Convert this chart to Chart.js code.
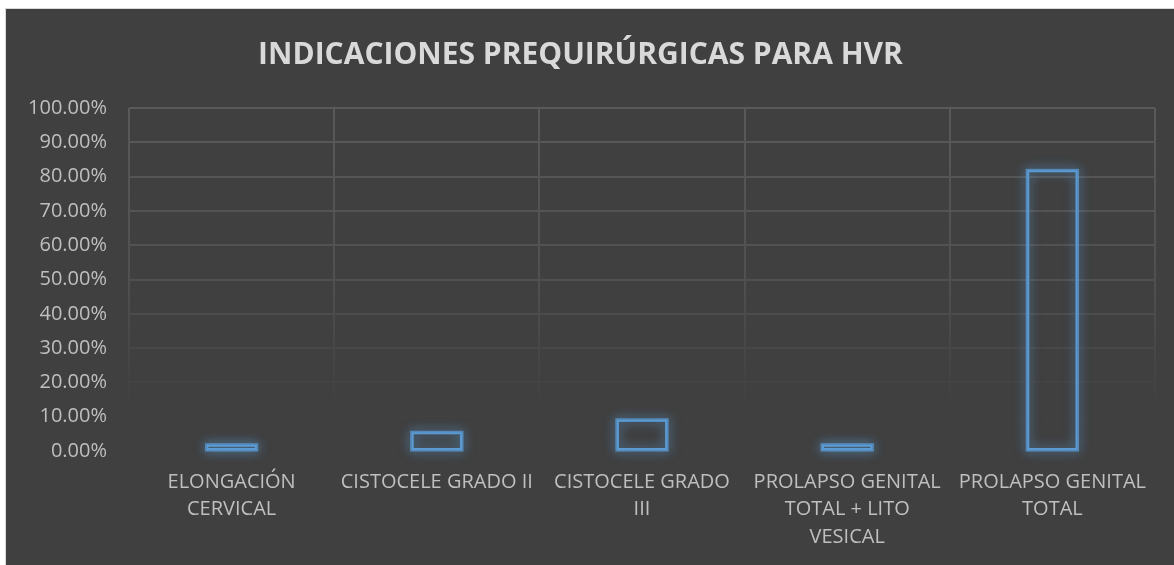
<!DOCTYPE html>
<html>
<head>
<meta charset="utf-8">
<title>Indicaciones prequirúrgicas para HVR</title>
<script src="https://cdn.jsdelivr.net/npm/chart.js@4/dist/chart.umd.min.js"></script>
<style>
  body { margin: 0; background: #ffffff; }
  #box {
    position: absolute; left: 5px; top: 8px;
    width: 1168px; height: 556px;
    background: #404040;
    border-top: 1px solid #d9d9d9;
    border-left: 1px solid #d9d9d9;
  }
</style>
</head>
<body>
<div id="box"><canvas id="chart1" width="1168" height="556"></canvas></div>
<script>
// data (n = 55 cases)
const categories = [
  ['ELONGACIÓN', 'CERVICAL'],
  ['CISTOCELE GRADO II'],
  ['CISTOCELE GRADO', 'III'],
  ['PROLAPSO GENITAL', 'TOTAL + LITO', 'VESICAL'],
  ['PROLAPSO GENITAL', 'TOTAL']
];
const percentages = [0.0182, 0.0545, 0.0909, 0.0182, 0.8182];
const yTicks = [0, 0.1, 0.2, 0.3, 0.4, 0.5, 0.6, 0.7, 0.8, 0.9, 1.0];

const fontFamily = "'Open Sans', sans-serif";
const tickColor = '#bfbfbf';
const barBlue = '#5b9bd5';

// grid lines fade out towards the bottom of the plot
let gridGradient = null;
function gridColor(ctx) {
  const chart = ctx.chart;
  const area = chart.chartArea;
  if (!area) return '#555555';
  if (!gridGradient) {
    gridGradient = chart.ctx.createLinearGradient(0, area.top, 0, area.bottom);
    gridGradient.addColorStop(0, '#595959');
    gridGradient.addColorStop(0.5, '#505050');
    gridGradient.addColorStop(0.85, '#414141');
    gridGradient.addColorStop(1, '#404040');
  }
  return gridGradient;
}

// soft blue glow round the bars, drawn under the bar outlines
const glow = {
  id: 'glow',
  beforeDatasetsDraw(chart) {
    const c = chart.ctx;
    const bars = chart.getDatasetMeta(0).data;
    c.save();
    c.strokeStyle = 'rgba(91, 155, 213, 0.5)';
    c.lineWidth = 3;
    c.shadowColor = 'rgba(91, 155, 213, 1)';
    c.shadowBlur = 12;
    for (let i = 0; i < 2; i++) {
      bars.forEach(b => {
        const p = b.getProps(['x', 'y', 'base', 'width'], true);
        c.strokeRect(p.x - p.width / 2, p.y, p.width, p.base - p.y);
      });
    }
    c.restore();
  }
};

const chart = new Chart(document.getElementById('chart1'), {
  type: 'bar',
  data: {
    labels: categories,
    datasets: [{
      data: percentages,
      backgroundColor: 'rgba(0, 0, 0, 0)',
      borderColor: barBlue,
      borderWidth: 2,
      borderSkipped: false,
      categoryPercentage: 1,
      barPercentage: 0.245
    }]
  },
  options: {
    responsive: false,
    animation: false,
    layout: { padding: { left: 0, right: 19, top: 0, bottom: 0 } },
    plugins: {
      legend: { display: false },
      tooltip: { enabled: false },
      title: {
        display: true,
        text: 'INDICACIONES PREQUIRÚRGICAS PARA HVR',
        color: '#d9d9d9',
        font: { family: fontFamily, size: 30, weight: 'bold', lineHeight: 1.2 },
        padding: { top: 28, bottom: 35 }
      }
    },
    scales: {
      x: {
        grid: { color: gridColor, lineWidth: 2, drawTicks: false, offset: true },
        border: { display: false },
        ticks: {
          color: tickColor,
          maxRotation: 0,
          autoSkip: false,
          padding: 17,
          font: { family: fontFamily, size: 20, lineHeight: 1.38 }
        },
        afterFit(scale) { scale.height = 114; }
      },
      y: {
        min: 0,
        max: 1,
        grid: { color: gridColor, lineWidth: 2, drawTicks: false },
        border: { display: false },
        afterBuildTicks(scale) { scale.ticks = yTicks.map(v => ({ value: v })); },
        ticks: {
          color: tickColor,
          padding: 22,
          font: { family: fontFamily, size: 20 },
          callback: v => (v * 100).toFixed(2) + '%'
        },
        afterFit(scale) { scale.width = 123; }
      }
    }
  },
  plugins: [glow]
});
</script>
</body>
</html>
